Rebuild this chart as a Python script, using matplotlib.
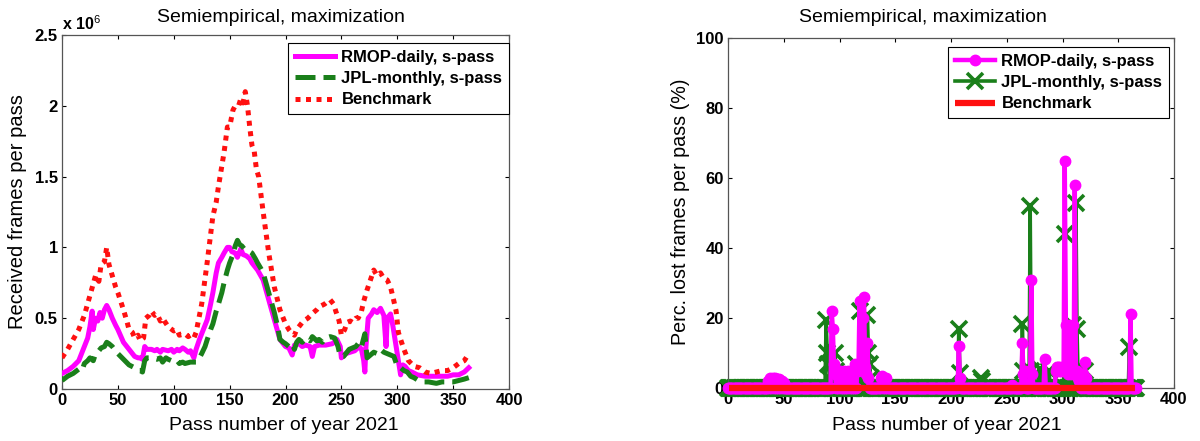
import numpy as np
import matplotlib
matplotlib.use('Agg')
import matplotlib.pyplot as plt

plt.rcParams['font.family'] = ['Liberation Sans', 'DejaVu Sans']
plt.rcParams['mathtext.fontset'] = 'custom'
plt.rcParams['mathtext.rm'] = 'Liberation Sans'

# ---- left panel: received frames per pass (units of 1e6) ----
bench_pass = [0, 5, 10, 15, 20, 25, 30, 33, 35, 38, 40, 42, 45, 48, 50, 55, 58, 60, 63, 65,
              68, 70, 73, 75, 78, 80, 83, 85, 88, 90, 95, 100, 103, 105, 110, 113, 115, 118,
              120, 125, 130, 135, 138, 140, 145, 148, 150, 153, 155, 158, 160, 162, 164, 166,
              168, 170, 172, 174, 176, 180, 185, 190, 195, 198, 200, 203, 205, 208, 210, 213,
              215, 218, 220, 225, 228, 230, 235, 238, 240, 243, 245, 248, 250, 253, 255, 258,
              260, 263, 265, 268, 270, 273, 276, 279, 282, 285, 288, 291, 294, 297, 299, 301,
              303, 306, 310, 315, 320, 325, 330, 335, 340, 345, 350, 355, 360, 364]
bench_recv = [0.22, 0.28, 0.35, 0.42, 0.52, 0.66, 0.80, 0.76, 0.88, 0.90, 1.00, 0.88, 0.80,
              0.72, 0.68, 0.56, 0.48, 0.42, 0.40, 0.36, 0.38, 0.34, 0.36, 0.50, 0.52, 0.55,
              0.52, 0.53, 0.48, 0.50, 0.44, 0.41, 0.42, 0.38, 0.39, 0.37, 0.38, 0.36, 0.40,
              0.60, 0.90, 1.22, 1.32, 1.43, 1.67, 1.85, 1.85, 1.97, 2.00, 2.00, 2.05, 2.02,
              2.10, 2.00, 1.85, 1.72, 1.68, 1.55, 1.50, 1.25, 0.96, 0.72, 0.56, 0.50, 0.46,
              0.42, 0.40, 0.38, 0.42, 0.45, 0.47, 0.49, 0.50, 0.54, 0.56, 0.58, 0.60, 0.62,
              0.63, 0.60, 0.55, 0.48, 0.38, 0.42, 0.47, 0.48, 0.47, 0.50, 0.50, 0.55, 0.62,
              0.70, 0.77, 0.84, 0.80, 0.82, 0.78, 0.77, 0.72, 0.62, 0.55, 0.40, 0.35, 0.28,
              0.20, 0.16, 0.15, 0.12, 0.11, 0.12, 0.13, 0.13, 0.15, 0.18, 0.20, 0.25]

rmop_pass = [0, 5, 10, 15, 20, 23, 25, 27, 28, 30, 32, 34, 36, 38, 40, 42, 45, 48, 50, 55,
             58, 60, 63, 65, 68, 70, 72, 74, 76, 80, 83, 85, 88, 90, 95, 98, 100, 103, 105,
             108, 110, 113, 115, 118, 120, 123, 125, 128, 130, 133, 135, 138, 140, 143, 145,
             148, 150, 152, 155, 157, 160, 162, 165, 168, 170, 175, 180, 185, 190, 195, 198,
             200, 203, 206, 208, 212, 215, 218, 222, 224, 226, 230, 236, 242, 246, 249, 250,
             254, 258, 262, 266, 268, 270, 271, 272, 274, 277, 279, 282, 285, 288, 290, 291,
             294, 296, 299, 301, 303, 305, 307, 310, 313, 318, 325, 330, 335, 340, 345, 350,
             355, 360, 364]
rmop_recv = [0.11, 0.13, 0.16, 0.20, 0.30, 0.36, 0.44, 0.55, 0.42, 0.50, 0.48, 0.54, 0.50,
             0.56, 0.59, 0.56, 0.50, 0.45, 0.42, 0.33, 0.30, 0.28, 0.25, 0.23, 0.22, 0.22,
             0.21, 0.30, 0.28, 0.28, 0.27, 0.28, 0.26, 0.28, 0.27, 0.28, 0.26, 0.28, 0.27,
             0.29, 0.28, 0.26, 0.27, 0.22, 0.28, 0.35, 0.39, 0.45, 0.49, 0.60, 0.68, 0.82,
             0.89, 0.93, 0.96, 1.00, 1.00, 0.97, 0.96, 0.93, 0.99, 0.95, 0.94, 0.92, 0.89,
             0.84, 0.77, 0.63, 0.49, 0.35, 0.32, 0.30, 0.29, 0.24, 0.31, 0.32, 0.30, 0.31,
             0.30, 0.23, 0.30, 0.31, 0.31, 0.32, 0.35, 0.30, 0.22, 0.25, 0.26, 0.27, 0.30,
             0.28, 0.20, 0.12, 0.30, 0.50, 0.53, 0.56, 0.54, 0.57, 0.52, 0.30, 0.50, 0.53,
             0.45, 0.30, 0.20, 0.10, 0.17, 0.16, 0.13, 0.12, 0.10, 0.09, 0.09, 0.09, 0.09,
             0.09, 0.10, 0.10, 0.12, 0.15]

jpl_pass = [0, 5, 10, 15, 18, 20, 23, 25, 28, 30, 33, 35, 38, 40, 42, 45, 48, 50, 55, 60,
            65, 68, 70, 72, 74, 76, 80, 85, 88, 90, 93, 95, 98, 100, 103, 105, 108, 110, 115,
            120, 123, 125, 128, 130, 133, 135, 138, 140, 143, 145, 148, 150, 153, 155, 157,
            159, 161, 163, 165, 168, 170, 173, 175, 178, 180, 185, 190, 193, 195, 198, 200,
            203, 206, 208, 210, 212, 215, 218, 222, 224, 228, 230, 233, 236, 240, 244, 247,
            249, 252, 254, 257, 260, 263, 266, 268, 270, 271, 273, 276, 279, 282, 285, 288,
            291, 294, 297, 300, 303, 306, 309, 312, 315, 319, 324, 328, 335, 340, 345, 350,
            355, 360, 364]
jpl_recv = [0.06, 0.09, 0.11, 0.14, 0.13, 0.18, 0.20, 0.22, 0.20, 0.25, 0.27, 0.29, 0.30,
            0.33, 0.32, 0.30, 0.27, 0.25, 0.21, 0.17, 0.15, 0.13, 0.13, 0.12, 0.20, 0.22,
            0.22, 0.21, 0.22, 0.19, 0.22, 0.21, 0.20, 0.21, 0.20, 0.18, 0.19, 0.18, 0.19,
            0.19, 0.22, 0.25, 0.30, 0.35, 0.42, 0.46, 0.55, 0.60, 0.68, 0.75, 0.84, 0.89,
            0.95, 1.01, 1.05, 1.02, 1.01, 0.99, 0.98, 0.97, 0.96, 0.92, 0.89, 0.85, 0.82,
            0.68, 0.54, 0.44, 0.35, 0.33, 0.32, 0.30, 0.32, 0.28, 0.33, 0.35, 0.33, 0.36,
            0.34, 0.37, 0.34, 0.35, 0.33, 0.36, 0.37, 0.36, 0.30, 0.23, 0.23, 0.25, 0.28,
            0.29, 0.30, 0.33, 0.30, 0.36, 0.39, 0.22, 0.24, 0.26, 0.25, 0.28, 0.26, 0.25,
            0.24, 0.23, 0.16, 0.15, 0.13, 0.12, 0.09, 0.08, 0.06, 0.05, 0.05, 0.04, 0.05,
            0.05, 0.05, 0.06, 0.07, 0.08]

# ---- right panel: percentage of lost frames (zero except at the spikes) ----
n_pass = 366
rmop_spike_pass = [36, 38, 40, 42, 44, 46, 48, 50, 93, 94, 95, 96, 98, 100, 102, 104, 106,
                   108, 110, 112, 114, 116, 117, 118, 119, 120, 121, 122, 123, 124, 125, 126,
                   137, 138, 140, 142, 206, 207, 208, 255, 264, 265, 266, 271, 272, 273, 284,
                   294, 295, 296, 297, 298, 299, 300, 301, 302, 303, 304, 305, 306, 307, 308,
                   309, 310, 311, 312, 313, 314, 315, 316, 318, 320, 321, 361]
rmop_spike_val = [2, 3, 3, 3, 2.5, 2.5, 2, 1.5, 22, 17, 7, 4, 4, 5, 4.5, 5, 4.5,
                  5, 4.5, 5, 7, 6, 5, 25, 7, 6, 20, 26, 6, 4, 13, 3,
                  3, 3.5, 3, 3, 0.5, 12, 3, 1, 13, 4, 5, 5, 30.8, 4, 8.3,
                  5, 6, 6, 5, 6, 5, 6, 6, 65, 18, 5, 4, 18, 5, 4,
                  18, 5, 58, 5, 5, 3, 2, 3, 4, 7.3, 3, 21.2]

jpl_spike_pass = [88, 89, 90, 91, 96, 97, 115, 118, 119, 125, 126, 127, 128, 207, 208,
                  227, 228, 264, 265, 271, 272, 280, 288, 302, 303, 309, 312, 313, 314,
                  320, 360]
jpl_spike_val = [19.3, 10, 7, 3, 10, 5, 7, 22, 5, 21, 10, 7, 3, 17, 4.4,
                 3, 2, 18.3, 5, 52, 5, 5.5, 5, 44, 3, 18, 53, 17, 3,
                 5, 11.6]

tick_x = [0, 50, 100, 150, 200, 250, 300, 350, 400]
tick_y_left = [0, 0.5, 1, 1.5, 2, 2.5]
tick_y_left_lab = ['0', '0.5', '1', '1.5', '2', '2.5']
tick_y_right = [0, 20, 40, 60, 80, 100]

passes = np.arange(0, n_pass + 1)
rmop_lost = np.zeros(len(passes))
rmop_lost[rmop_spike_pass] = rmop_spike_val
jpl_lost = np.zeros(len(passes))
jpl_lost[jpl_spike_pass] = jpl_spike_val
bench_lost_pass = np.arange(1, 366)
bench_lost = np.zeros(len(bench_lost_pass))

magenta = '#ff00ff'
green = '#1a7f1a'
red = '#ff1010'

fig = plt.figure(figsize=(12, 4.41), dpi=100)
ax1 = fig.add_axes([62/1200, 1 - 389/441, 447/1200, 354/441])
ax2 = fig.add_axes([728/1200, 1 - 388/441, 446/1200, 350/441])


def style_axes(ax):
    ax.tick_params(direction='in', top=True, right=True, length=3, width=0.8,
                   labelsize=12, colors='black', pad=3)
    for lab in ax.get_xticklabels() + ax.get_yticklabels():
        lab.set_fontweight('bold')
    for sp in ax.spines.values():
        sp.set_color('#555555')
        sp.set_linewidth(0.9)


legend_kw = dict(borderaxespad=0, fancybox=False, edgecolor='black', framealpha=1,
                 prop={'weight': 'bold', 'size': 12}, handlelength=2.4,
                 labelspacing=0.38, handletextpad=0.4, borderpad=0.4)

# left
ax1.plot(rmop_pass, rmop_recv, color=magenta, lw=3.6, label='RMOP-daily, s-pass', zorder=3)
ax1.plot(jpl_pass, jpl_recv, color=green, lw=3.6, dashes=(4, 1.6),
         label='JPL-monthly, s-pass', zorder=4)
ax1.plot(bench_pass, bench_recv, color=red, lw=3.6, dashes=(1, 1.1),
         label='Benchmark', zorder=5)
ax1.set_xlim(0, 400)
ax1.set_ylim(0, 2.5)
ax1.set_xticks(tick_x)
ax1.set_yticks(tick_y_left)
ax1.set_yticklabels(tick_y_left_lab)
style_axes(ax1)
leg1 = ax1.legend(loc='upper right', bbox_to_anchor=(1.0, 1 - 8/354), **legend_kw)
leg1.get_frame().set_linewidth(0.8)

# right
ax2.plot(passes, jpl_lost, color=green, lw=2.6, marker='x', ms=11, mew=2.6,
         label='JPL-monthly, s-pass', zorder=2, clip_on=False)
ax2.plot(passes, rmop_lost, color=magenta, lw=3.2, marker='o', ms=7.5,
         label='RMOP-daily, s-pass', zorder=3, clip_on=False)
ax2.plot(bench_lost_pass, bench_lost, color=red, lw=4.5, label='Benchmark', zorder=4,
         clip_on=False, solid_capstyle='butt')
ax2.set_xlim(0, 400)
ax2.set_ylim(0, 100)
ax2.set_xticks(tick_x)
ax2.set_yticks(tick_y_right)
style_axes(ax2)
h, l = ax2.get_legend_handles_labels()
order = [1, 0, 2]
leg2 = ax2.legend([h[i] for i in order], [l[i] for i in order], loc='upper right',
                  bbox_to_anchor=((1169 - 728)/446, 1 - 9/350), **legend_kw)
leg2.get_frame().set_linewidth(0.8)

# texts
fig.text(281/1200, 1 - 17/441, 'Semiempirical, maximization', ha='center', va='center',
         fontsize=14)
fig.text(923/1200, 1 - 17/441, 'Semiempirical, maximization', ha='center', va='center',
         fontsize=14)
fig.text(62/1200, 1 - 24/441, 'x 10$^{6}$', ha='left', va='center', fontsize=11.5,
         fontweight='bold')
fig.text(18/1200, 1 - 212/441, 'Received frames per pass', rotation=90, ha='center',
         va='center', fontsize=14.5)
fig.text(681/1200, 1 - 212/441, 'Perc. lost frames per pass (%)', rotation=90, ha='center',
         va='center', fontsize=14.2)
fig.text(284/1200, 1 - 425/441, 'Pass number of year 2021', ha='center', va='center',
         fontsize=14)
fig.text(947/1200, 1 - 425/441, 'Pass number of year 2021', ha='center', va='center',
         fontsize=14)

fig.savefig('out.png', dpi=100)
